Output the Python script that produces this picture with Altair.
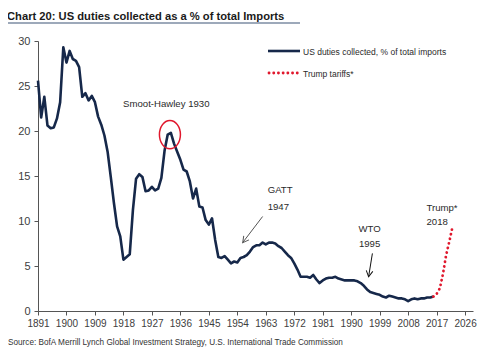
import altair as alt
import pandas as pd

# ---- data ----
years = list(range(1891, 2017))
duties = [25.6, 21.5, 23.8, 20.6, 20.3, 20.4, 21.4, 23.2, 29.3, 27.6,
          28.9, 28.0, 27.8, 27.1, 23.8, 24.2, 23.4, 23.9, 23.2, 21.6,
          20.7, 19.5, 17.7, 14.9, 12.0, 9.4, 8.3, 5.7, 6.0, 6.3,
          11.2, 14.7, 15.2, 14.9, 13.3, 13.4, 13.8, 13.4, 13.6, 14.8,
          17.8, 19.6, 19.8, 18.6, 17.7, 16.8, 15.7, 15.5, 14.4, 12.5,
          13.6, 11.6, 11.5, 10.1, 9.6, 10.3, 7.9, 6.0, 5.9, 6.1,
          5.7, 5.3, 5.5, 5.4, 5.9, 6.0, 6.2, 6.6, 7.1, 7.3,
          7.3, 7.6, 7.4, 7.6, 7.6, 7.5, 7.2, 7.0, 6.6, 6.2,
          5.9, 5.3, 4.6, 3.8, 3.8, 3.8, 3.7, 4.0, 3.5, 3.1,
          3.4, 3.6, 3.7, 3.7, 3.8, 3.6, 3.5, 3.4, 3.4, 3.4,
          3.4, 3.3, 3.1, 2.8, 2.4, 2.1, 2.0, 1.9, 1.8, 1.6,
          1.5, 1.7, 1.6, 1.5, 1.4, 1.4, 1.3, 1.1, 1.3, 1.4,
          1.3, 1.4, 1.4, 1.5, 1.5, 1.6]
trump_years = [2016, 2017, 2018, 2019, 2020, 2021, 2022]
trump_vals = [1.6, 1.9, 2.5, 4.1, 6.2, 7.7, 9.3]

x_ticks = list(range(1891, 2027, 9))
y_ticks = [0, 5, 10, 15, 20, 25, 30]

ann_labels = ["Smoot-Hawley 1930", "GATT", "1947", "WTO", "1995", "Trump*", "2018"]
ann_years = [1917.9, 1963.6, 1963.6, 1995.8, 1995.8, 2013.8, 2013.8]
ann_vals = [23.0, 13.4, 11.6, 9.1, 7.4, 11.5, 9.9]
ann_align = ["left", "left", "left", "center", "center", "left", "left"]

circle_year = [1932.7]
circle_val = [19.6]

arrow_names = ["GATT", "WTO"]
arrow_y0 = [1962.0, 1996.7]
arrow_v0 = [10.5, 6.4]
arrow_y1 = [1955.7, 1995.5]
arrow_v1 = [7.6, 3.8]
arrow_angle = [37.6, 9.0]
arrow_color = ["#555555", "#111111"]

legend_labels = ["US duties collected, % of total imports", "Trump tariffs*"]
title_text = "Chart 20: US duties collected as a % of total Imports"
source_text = "Source:  BofA Merrill Lynch Global Investment Strategy, U.S. International Trade Commission"

# ---- style ----
FONT = "Liberation Sans, Arial, sans-serif"
NAVY = "#16284a"
RED = "#e0182d"

main_df = pd.DataFrame({"year": years, "val": duties})
trump_df = pd.DataFrame({"year": trump_years, "val": trump_vals})
ann_df = pd.DataFrame({"label": ann_labels, "year": ann_years, "val": ann_vals, "align": ann_align})
circ_df = pd.DataFrame({"year": circle_year, "val": circle_val})
arr_df = pd.DataFrame({"name": arrow_names, "year": arrow_y0, "val": arrow_v0,
                       "year2": arrow_y1, "val2": arrow_v1, "ang": arrow_angle,
                       "col": arrow_color})

xs = alt.Scale(domain=[1891, 2028.5], nice=False, zero=False)
ys = alt.Scale(domain=[0, 30], nice=False)
xaxis = alt.Axis(values=x_ticks, format="d", grid=False, title=None, labelFlush=False,
                 labelOverlap=False, tickSize=4, labelPadding=3, labelFontSize=10)
yaxis = alt.Axis(values=y_ticks, grid=False, title=None, tickSize=4, labelPadding=4,
                 labelFontSize=11)


def X(f="year"):
    return alt.X(f"{f}:Q", scale=xs, axis=xaxis, title=None)


def Y(f="val"):
    return alt.Y(f"{f}:Q", scale=ys, axis=yaxis, title=None)


main_line = alt.Chart(main_df).mark_line(color=NAVY, strokeWidth=2.6, strokeJoin="round").encode(x=X(), y=Y())
trump_line = alt.Chart(trump_df).mark_line(color=RED, strokeWidth=2.8, strokeDash=[0.1, 4.6],
                                           strokeCap="round").encode(x=X(), y=Y())

ellipse_path = "M-1,0A1,1.35 0 1,1 1,0A1,1.35 0 1,1 -1,0Z"
circle = alt.Chart(circ_df).mark_point(shape=ellipse_path, size=441, filled=False,
                                       stroke=RED, strokeWidth=1.5, opacity=1).encode(x=X(), y=Y())

texts = []
for al in ["left", "center"]:
    texts.append(alt.Chart(ann_df[ann_df["align"] == al]).mark_text(
        align=al, baseline="middle", font=FONT, fontSize=9.6, color="#2a2a2a"
    ).encode(x=X(), y=Y(), text="label:N"))

arrows = alt.Chart(arr_df).mark_rule(strokeWidth=1).encode(
    x=X(), y=Y(), x2="year2:Q", y2="val2:Q", color=alt.Color("col:N", scale=None))
head_path = "M-0.55,-1L0,0L0.55,-1"
heads = alt.Chart(arr_df).mark_point(shape=head_path, size=144, filled=False, strokeWidth=1,
                                     opacity=1).encode(
    x=X("year2"), y=Y("val2"), angle=alt.Angle("ang:Q", scale=None),
    stroke=alt.Color("col:N", scale=None))

# ---- legend (pixel positions relative to the plot area) ----
lg_df = pd.DataFrame({"t": [0]})
leg1 = alt.Chart(lg_df).mark_rule(color=NAVY, strokeWidth=2.6).encode(
    x=alt.value(230), x2=alt.value(262), y=alt.value(10))
leg2 = alt.Chart(lg_df).mark_rule(color=RED, strokeWidth=2.8, strokeDash=[0.1, 4.6], strokeCap="round").encode(
    x=alt.value(231), x2=alt.value(261), y=alt.value(32))
leg_t1 = alt.Chart(lg_df).mark_text(align="left", baseline="middle", font=FONT, fontSize=8.5,
                                    color="#2a2a2a", text=legend_labels[0]).encode(
    x=alt.value(265), y=alt.value(10.5))
leg_t2 = alt.Chart(lg_df).mark_text(align="left", baseline="middle", font=FONT, fontSize=8.5,
                                    color="#2a2a2a", text=legend_labels[1]).encode(
    x=alt.value(265), y=alt.value(32.5))

title = alt.Chart(lg_df).mark_text(align="left", baseline="alphabetic", font=FONT, fontSize=11.2,
                                   fontWeight="bold", color="#1a1a1a", text=title_text).encode(
    x=alt.value(-31), y=alt.value(-21))
underline = alt.Chart(lg_df).mark_rule(color="#7d8ca3", strokeWidth=1.5).encode(
    x=alt.value(-31), x2=alt.value(262), y=alt.value(-18))
source = alt.Chart(lg_df).mark_text(align="left", baseline="middle", font=FONT, fontSize=8.2,
                                    color="#333333", text=source_text).encode(
    x=alt.value(-30), y=alt.value(302))

chart = alt.layer(main_line, trump_line, circle, *texts, arrows, heads,
                  leg1, leg2, leg_t1, leg_t2, title, underline, source).properties(
    width=435, height=270,
    autosize=alt.AutoSizeParams(type="none"),
    padding={"left": 30, "top": 33, "right": 7, "bottom": 40},
).configure_view(stroke=None).configure_axis(
    domainColor="#555555", tickColor="#555555", labelColor="#404040",
    labelFont=FONT, domainWidth=1
)

chart.save("out.html", embed_options={"renderer": "svg", "actions": False})
